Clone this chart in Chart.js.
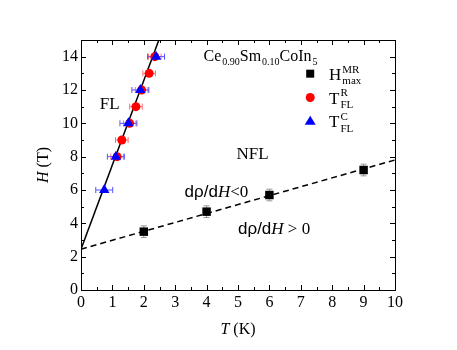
<!DOCTYPE html>
<html>
<head>
<meta charset="utf-8">
<script src="https://cdn.jsdelivr.net/npm/chart.js@4.4.1/dist/chart.umd.min.js"></script>
<style>
html, body { margin: 0; padding: 0; background: #fff; }
</style>
</head>
<body>
<canvas id="myChart" width="457" height="350"></canvas>
<script>
// H_max^MR (black squares)
const hmrT = [2, 4, 6, 9];
const hmrH = [3.5, 4.7, 5.7, 7.2];
const hmrErr = [0.35, 0.35, 0.35, 0.35];
// T_FL^R (red circles)
const rT = [1.15, 1.3, 1.55, 1.75, 1.93, 2.17, 2.35];
const rH = [8, 9, 10, 11, 12, 13, 14];
const rErr = [0.2, 0.2, 0.2, 0.2, 0.2, 0.2, 0.2];
// T_FL^C (blue triangles)
const cT = [0.74, 1.11, 1.51, 1.89, 2.39];
const cH = [6, 8, 10, 12, 14];
const cErr = [0.27, 0.27, 0.27, 0.27, 0.27];
// boundary lines
const flLineT = [0, 2.48];
const flLineH = [2.45, 15];
const nflLineT = [0, 10];
const nflLineH = [2.45, 7.8];
// ticks
const xTicks = [0, 1, 2, 3, 4, 5, 6, 7, 8, 9, 10];
const yTicks = [0, 2, 4, 6, 8, 10, 12, 14];

const SERIF = '"Liberation Serif", "Times New Roman", serif';
const SANS = '"Liberation Sans", Arial, sans-serif';

const pts = (xs, ys) => xs.map((x, i) => ({ x: x, y: ys[i] }));

// parts: {t, it, sans, sub, sup}
function richText(ctx, x, y, parts, size, scr) {
	let cx = x;
	const ss = scr || 0.62;
	parts.forEach(p => {
		if (p.t) {
			ctx.font = (p.it ? 'italic ' : '') + size + 'px ' + (p.sans ? SANS : SERIF);
			ctx.fillText(p.t, cx, y);
			cx += ctx.measureText(p.t).width;
		}
		let w = 0;
		ctx.font = Math.round(size * ss) + 'px ' + SERIF;
		if (p.sup) {
			ctx.fillText(p.sup, cx + 1, y - size * 0.42);
			w = Math.max(w, ctx.measureText(p.sup).width);
		}
		if (p.sub) {
			ctx.fillText(p.sub, cx + 1, y + size * 0.28);
			w = Math.max(w, ctx.measureText(p.sub).width);
		}
		if (w) cx += w + 1;
	});
	return cx;
}

const decorPlugin = {
	id: 'decor',
	beforeDatasetsDraw(chart) {
		const ctx = chart.ctx;
		const xs = chart.scales.x, ys = chart.scales.y;
		ctx.save();
		const drawErr = (idx, errs, color, horiz) => {
			const meta = chart.getDatasetMeta(idx);
			const data = chart.data.datasets[idx].data;
			ctx.strokeStyle = color;
			ctx.lineWidth = 1;
			meta.data.forEach((el, j) => {
				const d = data[j];
				ctx.beginPath();
				if (horiz) {
					const a = xs.getPixelForValue(d.x - errs[j]);
					const b = xs.getPixelForValue(d.x + errs[j]);
					ctx.moveTo(a, el.y); ctx.lineTo(b, el.y);
					ctx.moveTo(a, el.y - 3); ctx.lineTo(a, el.y + 3);
					ctx.moveTo(b, el.y - 3); ctx.lineTo(b, el.y + 3);
				} else {
					const a = ys.getPixelForValue(d.y - errs[j]);
					const b = ys.getPixelForValue(d.y + errs[j]);
					ctx.moveTo(el.x, a); ctx.lineTo(el.x, b);
					ctx.moveTo(el.x - 3, a); ctx.lineTo(el.x + 3, a);
					ctx.moveTo(el.x - 3, b); ctx.lineTo(el.x + 3, b);
				}
				ctx.stroke();
			});
		};
		drawErr(2, hmrErr, '#999999', false);
		drawErr(1, rErr, '#ff7070', true);
		drawErr(0, cErr, '#5555ff', true);
		ctx.restore();
	},
	afterDraw(chart) {
		const ctx = chart.ctx;
		const a = chart.chartArea;
		const xs = chart.scales.x, ys = chart.scales.y;
		ctx.save();
		ctx.strokeStyle = '#000';
		ctx.lineWidth = 1;
		// frame
		ctx.strokeRect(Math.round(a.left) + 0.5, Math.round(a.top) + 0.5,
			Math.round(a.right - a.left), Math.round(a.bottom - a.top));
		// inward ticks on all sides
		ctx.beginPath();
		for (let v = 0; v <= 10.001; v += 0.5) {
			const px = Math.round(xs.getPixelForValue(v)) + 0.5;
			const len = Number.isInteger(v) ? 5 : 3;
			ctx.moveTo(px, a.bottom); ctx.lineTo(px, a.bottom - len);
			ctx.moveTo(px, a.top); ctx.lineTo(px, a.top + len);
		}
		for (let v = 0; v <= 15; v += 1) {
			const py = Math.round(ys.getPixelForValue(v)) + 0.5;
			const len = v % 2 === 0 ? 5 : 3;
			ctx.moveTo(a.left, py); ctx.lineTo(a.left + len, py);
			ctx.moveTo(a.right, py); ctx.lineTo(a.right - len, py);
		}
		ctx.stroke();

		ctx.fillStyle = '#000';
		ctx.textBaseline = 'alphabetic';
		ctx.textAlign = 'left';
		const X = v => xs.getPixelForValue(v);
		const Y = v => ys.getPixelForValue(v);

		// compound title
		richText(ctx, X(3.9), Y(13.75), [
			{ t: 'Ce', sub: '0.90' }, { t: 'Sm', sub: '0.10' }, { t: 'CoIn', sub: '5' }
		], 16, 0.6);

		// legend
		const lx = X(7.3);
		ctx.fillStyle = '#000';
		ctx.fillRect(lx - 4, Y(12.98) - 4, 8, 8);
		ctx.fillStyle = '#ff0000';
		ctx.beginPath(); ctx.arc(lx, Y(11.55), 4.5, 0, Math.PI * 2); ctx.fill();
		ctx.fillStyle = '#0000ff';
		const ty = Y(10.15);
		ctx.beginPath(); ctx.moveTo(lx, ty - 5); ctx.lineTo(lx + 5.5, ty + 4); ctx.lineTo(lx - 5.5, ty + 4); ctx.closePath(); ctx.fill();
		ctx.fillStyle = '#000';
		const tx = X(7.9);
		richText(ctx, tx, Y(12.98) + 6, [{ t: 'H', sup: 'MR', sub: 'max' }], 17);
		richText(ctx, tx, Y(11.55) + 6, [{ t: 'T', sup: 'R', sub: 'FL' }], 17);
		richText(ctx, tx, Y(10.15) + 6, [{ t: 'T', sup: 'C', sub: 'FL' }], 17);

		// phase labels
		ctx.font = '17px ' + SERIF;
		ctx.fillText('FL', X(0.6), Y(11.25) + 6);
		ctx.fillText('NFL', X(4.95), Y(8.2) + 6);
		richText(ctx, X(3.3), Y(5.95) + 6, [
			{ t: 'd\u03c1/d', sans: true }, { t: 'H', it: true }, { t: '<0' }
		], 17);
		richText(ctx, X(5.0), Y(3.75) + 6, [
			{ t: 'd\u03c1/d', sans: true }, { t: 'H', it: true }, { t: ' > 0' }
		], 17);

		// axis titles
		ctx.font = 'italic 16px ' + SERIF;
		const tw1 = ctx.measureText('T').width;
		ctx.font = '16px ' + SERIF;
		const tw2 = ctx.measureText(' (K)').width;
		const cx = (a.left + a.right) / 2 - (tw1 + tw2) / 2;
		richText(ctx, cx, 334, [{ t: 'T', it: true }, { t: ' (K)' }], 16);

		ctx.translate(48, (a.top + a.bottom) / 2);
		ctx.rotate(-Math.PI / 2);
		ctx.font = 'italic 16px ' + SERIF;
		const hw1 = ctx.measureText('H').width;
		ctx.font = '16px ' + SERIF;
		const hw2 = ctx.measureText(' (T)').width;
		richText(ctx, -(hw1 + hw2) / 2, 0, [{ t: 'H', it: true }, { t: ' (T)' }], 16);
		ctx.restore();
	}
};

const ctx = document.getElementById('myChart').getContext('2d');
const myChart = new Chart(ctx, {
	type: 'scatter',
	data: {
		datasets: [
			{ label: 'TC', data: pts(cT, cH), pointStyle: 'triangle', pointRadius: 6,
				backgroundColor: '#0000ff', borderColor: '#0000ff', borderWidth: 0 },
			{ label: 'TR', data: pts(rT, rH), pointStyle: 'circle', pointRadius: 4.5,
				backgroundColor: '#ff0000', borderColor: '#ff0000', borderWidth: 0 },
			{ label: 'Hmr', data: pts(hmrT, hmrH), pointStyle: 'rect', pointRadius: 6,
				backgroundColor: '#000', borderColor: '#000', borderWidth: 0 },
			{ type: 'line', label: 'FL', data: pts(flLineT, flLineH), borderColor: '#000',
				borderWidth: 1.5, pointRadius: 0, fill: false },
			{ type: 'line', label: 'NFL', data: pts(nflLineT, nflLineH), borderColor: '#000',
				borderWidth: 1.5, borderDash: [6, 4], pointRadius: 0, fill: false }
		]
	},
	options: {
		responsive: false,
		animation: false,
		layout: { padding: { top: 40, right: 62, left: 0, bottom: 0 } },
		plugins: { legend: { display: false }, tooltip: { enabled: false } },
		scales: {
			x: {
				type: 'linear', min: 0, max: 10,
				afterFit: s => { s.height = 60; },
				afterBuildTicks: s => { s.ticks = xTicks.map(v => ({ value: v })); },
				grid: { display: false, drawTicks: false },
				border: { display: false },
				ticks: { padding: 3, color: '#000', font: { family: SERIF, size: 16 }, maxRotation: 0 }
			},
			y: {
				type: 'linear', min: 0, max: 15,
				afterFit: s => { s.width = 81; },
				afterBuildTicks: s => { s.ticks = yTicks.map(v => ({ value: v })); },
				grid: { display: false, drawTicks: false },
				border: { display: false },
				ticks: { padding: 3, color: '#000', font: { family: SERIF, size: 16 } }
			}
		}
	},
	plugins: [decorPlugin]
});
</script>
</body>
</html>
